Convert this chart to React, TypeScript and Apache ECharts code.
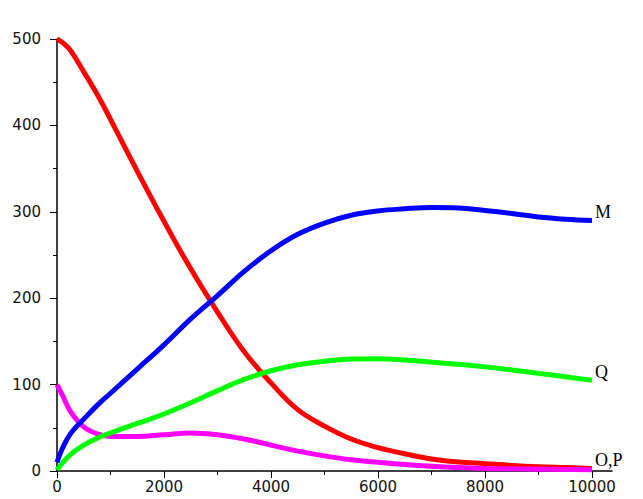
import React, { useEffect, useRef } from "react";
import * as echarts from "echarts";

const xs = [0, 100, 250, 500, 750, 1000, 1500, 2000, 2500, 3000, 3500, 4000, 4500, 5000, 5500, 6000, 6500, 7000, 7500, 8000, 8500, 9000, 9500, 10000];
const redO = [500, 496, 487, 462, 436, 407, 347, 289, 234, 184, 138, 102, 71, 52, 37, 27, 20, 14, 10.5, 8.5, 6.5, 5, 4, 3];
const blueM = [10, 26, 43, 60, 76, 90, 118, 146, 176, 203, 231, 255, 274, 287, 296, 301, 303.5, 305, 304.5, 301.5, 298, 294, 291.5, 290];
const greenQ = [1, 9, 19, 30, 38, 44, 55, 66, 79, 93, 106, 116, 123, 127, 129.5, 130, 128.5, 126, 123.5, 120.5, 117, 113, 109, 105];
const magentaP = [100, 88, 69, 51, 43, 40, 40, 42, 44, 42, 37, 30, 23, 17.5, 13, 10, 7.5, 5.5, 4, 3, 2.5, 2, 1.8, 1.5];

const xMajorTicks = [0, 2000, 4000, 6000, 8000, 10000];
const xMinorTicks = [1000, 3000, 5000, 7000, 9000];
const yTicks = [0, 100, 200, 300, 400, 500];

const pairs = (ys: number[]) => xs.map((x, i) => [x, ys[i]]);

export default function App() {
  const ref = useRef<HTMLDivElement>(null);
  useEffect(() => {
    if (!ref.current) return;
    const chart = echarts.init(ref.current, undefined, { renderer: "svg" });
    const labelFont = {
      color: "#000",
      fontFamily: "Liberation Serif",
      fontSize: 18,
    };
    const mkSeries = (name: string, ys: number[], color: string, label?: string) => ({
      name,
      type: "line",
      xAxisIndex: 0,
      data: pairs(ys),
      showSymbol: false,
      symbol: "none",
      smooth: 0.4,
      lineStyle: { color, width: 5 },
      itemStyle: { color },
      endLabel: label
        ? { show: true, formatter: label, distance: 3, offset: [0, -8], ...labelFont }
        : { show: false },
      z: 2,
    });
    chart.setOption({
      animation: false,
      grid: { left: 57, top: 39, width: 555, height: 432, containLabel: false },
      xAxis: [
        {
          type: "value",
          position: "bottom",
          min: 0,
          max: 10374,
          splitLine: { show: false },
          axisLine: { show: true, lineStyle: { color: "#000", width: 1.5 } },
          axisTick: { show: true, length: 7, customValues: xMajorTicks, lineStyle: { color: "#000" } },
          axisLabel: {
            show: true,
            customValues: xMajorTicks,
            margin: 8,
            color: "#111",
            fontFamily: "DejaVu Sans",
            fontSize: 15,
            formatter: (v: number) => String(v),
          },
        },
        {
          type: "value",
          position: "bottom",
          min: 0,
          max: 10374,
          splitLine: { show: false },
          axisLine: { show: false },
          axisTick: { show: true, length: 4, customValues: xMinorTicks, lineStyle: { color: "#000" } },
          axisLabel: { show: false },
        },
      ],
      yAxis: {
        type: "value",
        min: 0,
        max: 500,
        interval: 100,
        splitLine: { show: false },
        axisLine: { show: true, lineStyle: { color: "#000", width: 1.5 } },
        axisTick: { show: true, length: 7, lineStyle: { color: "#000" } },
        minorTick: { show: true, splitNumber: 2, length: 4, lineStyle: { color: "#000" } },
        axisLabel: {
          margin: 16,
          color: "#111",
          fontFamily: "DejaVu Sans",
          fontSize: 15,
          formatter: (v: number) => (yTicks.includes(v) ? String(v) : ""),
        },
      },
      series: [
        mkSeries("O", redO, "#ff0000", "O,P"),
        mkSeries("P", magentaP, "#ff00ff"),
        mkSeries("Q", greenQ, "#00ff00", "Q"),
        mkSeries("M", blueM, "#0000ff", "M"),
      ],
    });
    return () => chart.dispose();
  }, []);
  return (
    <div
      ref={ref}
      style={{ position: "fixed", left: 0, top: 0, width: 643, height: 499, background: "#fff" }}
    />
  );
}
